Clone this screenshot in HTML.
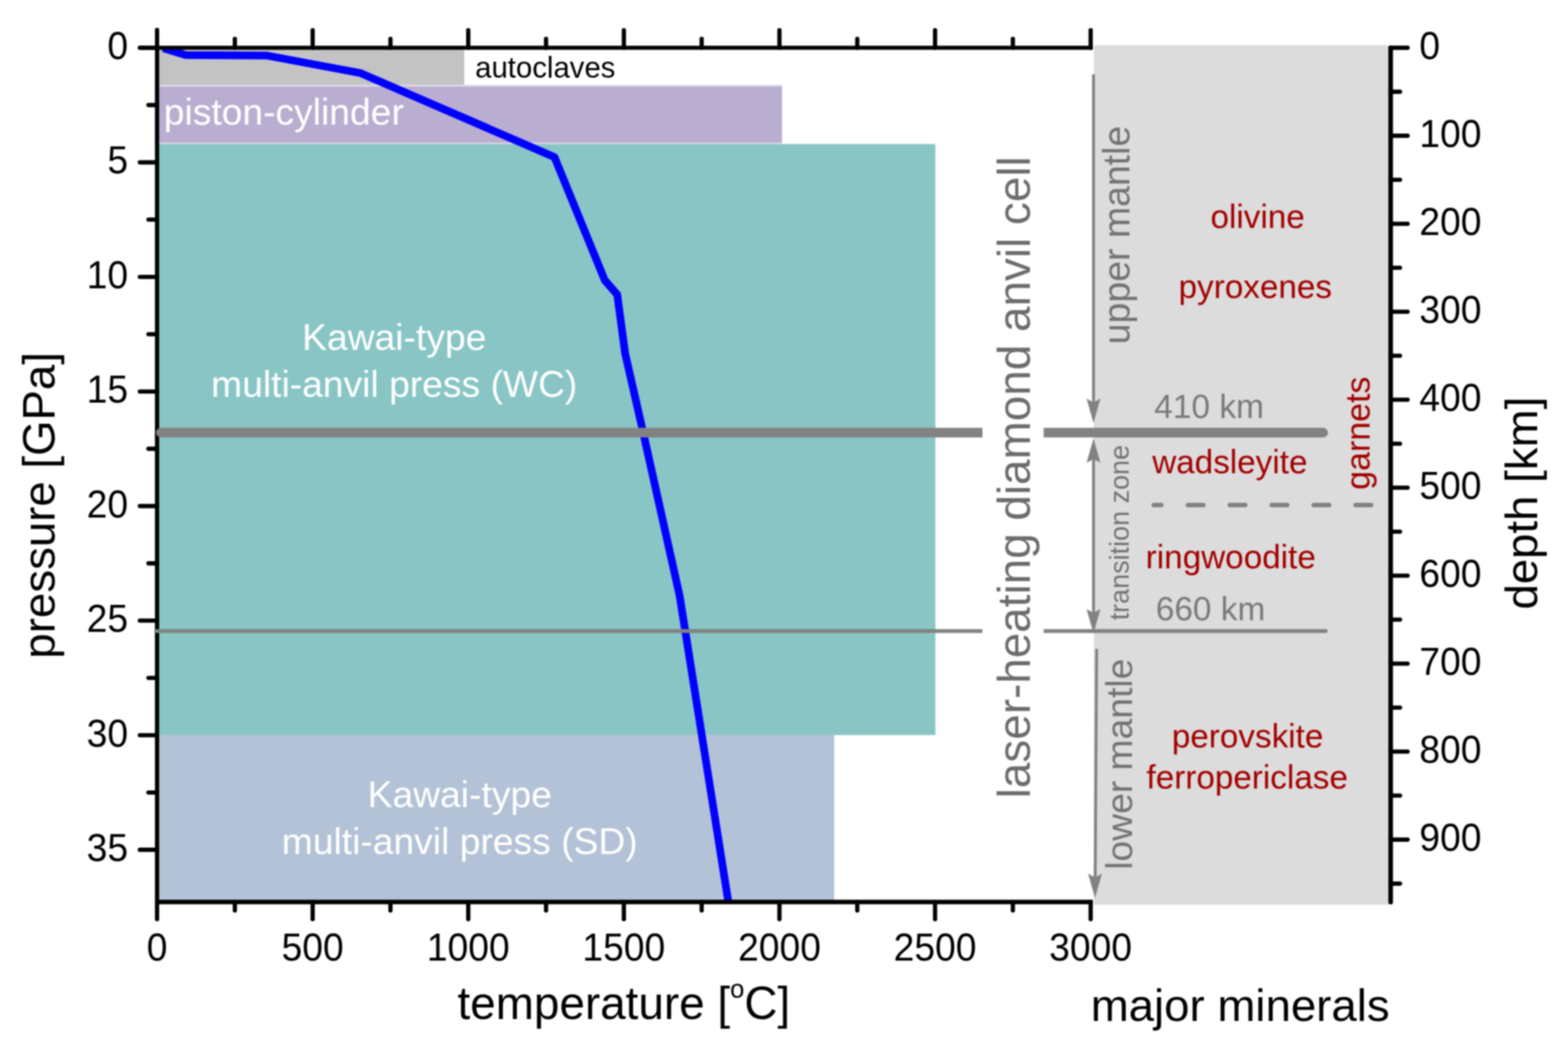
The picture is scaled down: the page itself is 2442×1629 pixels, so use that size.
<!DOCTYPE html>
<html lang="en"><head><meta charset="utf-8"><title>Pressure-temperature diagram</title>
<style>
html,body{margin:0;padding:0;background:#fff;}
body{width:2442px;height:1629px;overflow:hidden;}
svg{display:block;filter:blur(0.8px);}
text{font-family:"Liberation Sans",sans-serif;}
.tk{font-size:58px;fill:#000;}
.ttl{font-size:71px;fill:#000;}
.red{font-size:51.8px;fill:#a30000;}
.gry{fill:#737373;}
.wht{fill:#fff;font-size:58px;}
</style></head><body>
<svg width="2442" height="1629" viewBox="0 0 2442 1629">
<rect x="0" y="0" width="2442" height="1629" fill="#fff"/>

<defs><clipPath id="plot"><rect x="244.6" y="74.4" width="1500" height="1330.3"/></clipPath></defs>
<g>
<rect x="244.6" y="74.4" width="478.4" height="57.900000000000006" fill="#c3c3c3"/>
<rect x="244.6" y="132.3" width="973.4" height="92" fill="#dcd6e8"/>
<rect x="244.6" y="135" width="973.4" height="87" fill="#b9aed0"/>
<rect x="244.6" y="224.3" width="1212.2" height="920.5" fill="#89c5c5"/>
<rect x="244.6" y="1144.8" width="1054.6000000000001" height="259.9000000000001" fill="#b3c2d6"/>
<rect x="1703.5" y="70.5" width="459" height="1338.5" fill="#dcdcdc"/>
</g>
<polyline clip-path="url(#plot)" fill="none" stroke="#0000ff" stroke-width="12" stroke-linejoin="round" points="254,75 289.4,85.8 416.2,86.6 561.8,113.9 863.6,244.8 941.8,436.2 961.3,458.7 973.6,550.5 999.9,665.6 1058.5,928 1134.4,1405"/>
<g stroke="#000" stroke-width="6.6" fill="none" stroke-linecap="round">
<path d="M244.6 46.5V1431.5" />
<path d="M217.8 74.4H1701.8999999999999" stroke-linecap="butt" stroke-width="6.2"/>
<path d="M244.6 1404.7H1701.8999999999999" stroke-linecap="butt" stroke-width="7"/>
<path d="M2165.8 74.4V1405" stroke-width="7.2"/>
<path d="M365.77 74.4V60.5"/>
<path d="M365.77 1404.7V1418"/>
<path d="M486.93 74.4V47"/>
<path d="M486.93 1404.7V1431.5"/>
<path d="M608.10 74.4V60.5"/>
<path d="M608.10 1404.7V1418"/>
<path d="M729.27 74.4V47"/>
<path d="M729.27 1404.7V1431.5"/>
<path d="M850.43 74.4V60.5"/>
<path d="M850.43 1404.7V1418"/>
<path d="M971.60 74.4V47"/>
<path d="M971.60 1404.7V1431.5"/>
<path d="M1092.77 74.4V60.5"/>
<path d="M1092.77 1404.7V1418"/>
<path d="M1213.93 74.4V47"/>
<path d="M1213.93 1404.7V1431.5"/>
<path d="M1335.10 74.4V60.5"/>
<path d="M1335.10 1404.7V1418"/>
<path d="M1456.27 74.4V47"/>
<path d="M1456.27 1404.7V1431.5"/>
<path d="M1577.43 74.4V60.5"/>
<path d="M1577.43 1404.7V1418"/>
<path d="M1698.60 74.4V47"/>
<path d="M1698.60 1404.7V1431.5"/>
<path d="M244.6 74.40H217.8"/>
<path d="M244.6 163.62H231.2"/>
<path d="M244.6 252.83H217.8"/>
<path d="M244.6 342.04H231.2"/>
<path d="M244.6 431.26H217.8"/>
<path d="M244.6 520.48H231.2"/>
<path d="M244.6 609.69H217.8"/>
<path d="M244.6 698.90H231.2"/>
<path d="M244.6 788.12H217.8"/>
<path d="M244.6 877.33H231.2"/>
<path d="M244.6 966.55H217.8"/>
<path d="M244.6 1055.77H231.2"/>
<path d="M244.6 1144.98H217.8"/>
<path d="M244.6 1234.20H231.2"/>
<path d="M244.6 1323.41H217.8"/>
<path d="M2165.8 74.40H2192.2"/>
<path d="M2165.8 142.91H2180.4"/>
<path d="M2165.8 211.42H2192.2"/>
<path d="M2165.8 279.93H2180.4"/>
<path d="M2165.8 348.44H2192.2"/>
<path d="M2165.8 416.95H2180.4"/>
<path d="M2165.8 485.46H2192.2"/>
<path d="M2165.8 553.97H2180.4"/>
<path d="M2165.8 622.48H2192.2"/>
<path d="M2165.8 690.99H2180.4"/>
<path d="M2165.8 759.50H2192.2"/>
<path d="M2165.8 828.01H2180.4"/>
<path d="M2165.8 896.52H2192.2"/>
<path d="M2165.8 965.03H2180.4"/>
<path d="M2165.8 1033.54H2192.2"/>
<path d="M2165.8 1102.05H2180.4"/>
<path d="M2165.8 1170.56H2192.2"/>
<path d="M2165.8 1239.07H2180.4"/>
<path d="M2165.8 1307.58H2192.2"/>
<path d="M2165.8 1376.09H2180.4"/>
</g>
<g stroke="#828282" fill="none" stroke-linecap="round">
<path d="M250.6 673.8H2060.6" stroke-width="15"/>
<path d="M243 982.7H2064.7" stroke-width="6"/>
<path d="M1796.9 786.5H2139" stroke-width="7" stroke-dasharray="24 41.35" stroke-dashoffset="12.25"/>
</g>
<rect x="1530" y="230" width="95.4" height="1020" fill="#fff"/>
<g stroke="#828282" fill="none">
<line x1="1703" y1="115.7" x2="1703" y2="640" stroke-width="4.5"/>
<line x1="1703" y1="700" x2="1703" y2="960" stroke-width="4.5"/>
<line x1="1707.9" y1="1010.5" x2="1705.6" y2="1380" stroke-width="4.5"/>
</g>
<path fill="#828282" d="M1703 658.8 L1692.2 620.8 L1703 626.8 L1713.8 620.8 Z"/>
<path fill="#828282" d="M1703 682.8 L1692.2 720.8 L1703 714.8 L1713.8 720.8 Z"/>
<path fill="#828282" d="M1703 986.5 L1692.2 948.5 L1703 954.5 L1713.8 948.5 Z"/>
<path fill="#828282" d="M1705.4 1398.4 L1694.6000000000001 1360.4 L1705.4 1366.4 L1716.2 1360.4 Z"/>
<g class="tk">
<text transform="translate(199.6 92.0) scale(1 1.04)" text-anchor="end">0</text>
<text transform="translate(199.6 270.4) scale(1 1.04)" text-anchor="end">5</text>
<text transform="translate(199.6 448.9) scale(1 1.04)" text-anchor="end">10</text>
<text transform="translate(199.6 627.3) scale(1 1.04)" text-anchor="end">15</text>
<text transform="translate(199.6 805.7) scale(1 1.04)" text-anchor="end">20</text>
<text transform="translate(199.6 984.1) scale(1 1.04)" text-anchor="end">25</text>
<text transform="translate(199.6 1162.6) scale(1 1.04)" text-anchor="end">30</text>
<text transform="translate(199.6 1341.0) scale(1 1.04)" text-anchor="end">35</text>
<text transform="translate(244.6 1496.0) scale(1 1.04)" text-anchor="middle">0</text>
<text transform="translate(486.9 1496.0) scale(1 1.04)" text-anchor="middle">500</text>
<text transform="translate(729.3 1496.0) scale(1 1.04)" text-anchor="middle">1000</text>
<text transform="translate(971.6 1496.0) scale(1 1.04)" text-anchor="middle">1500</text>
<text transform="translate(1213.9 1496.0) scale(1 1.04)" text-anchor="middle">2000</text>
<text transform="translate(1456.3 1496.0) scale(1 1.04)" text-anchor="middle">2500</text>
<text transform="translate(1698.6 1496.0) scale(1 1.04)" text-anchor="middle">3000</text>
<text transform="translate(2210.6 92.0) scale(1 1.04)" text-anchor="start">0</text>
<text transform="translate(2210.6 229.0) scale(1 1.04)" text-anchor="start">100</text>
<text transform="translate(2210.6 366.0) scale(1 1.04)" text-anchor="start">200</text>
<text transform="translate(2210.6 503.1) scale(1 1.04)" text-anchor="start">300</text>
<text transform="translate(2210.6 640.1) scale(1 1.04)" text-anchor="start">400</text>
<text transform="translate(2210.6 777.1) scale(1 1.04)" text-anchor="start">500</text>
<text transform="translate(2210.6 914.1) scale(1 1.04)" text-anchor="start">600</text>
<text transform="translate(2210.6 1051.1) scale(1 1.04)" text-anchor="start">700</text>
<text transform="translate(2210.6 1188.2) scale(1 1.04)" text-anchor="start">800</text>
<text transform="translate(2210.6 1325.2) scale(1 1.04)" text-anchor="start">900</text>
</g>
<g class="ttl">
<text transform="translate(85.2 787) rotate(-90)" text-anchor="middle">pressure [GPa]</text>
<text x="971.6" y="1587" text-anchor="middle" font-size="71.4">temperature [<tspan font-size="40" dy="-33">o</tspan><tspan dy="33">C]</tspan></text>
<text x="1931.5" y="1590" text-anchor="middle">major minerals</text>
<text transform="translate(2393.6 783.6) rotate(-90)" text-anchor="middle">depth [km]</text>
</g>
<text x="740" y="121" font-size="45.7" fill="#000">autoclaves</text>
<g class="wht">
<text x="255" y="193.5">piston-cylinder</text>
<text x="614" y="545" text-anchor="middle">Kawai-type</text>
<text x="614" y="618" text-anchor="middle">multi-anvil press (WC)</text>
<text x="716" y="1256.8" text-anchor="middle">Kawai-type</text>
<text x="716" y="1329.8" text-anchor="middle">multi-anvil press (SD)</text>
</g>
<g class="gry">
<text transform="translate(1603.8 743.3) rotate(-90)" text-anchor="middle" font-size="71.4" fill="#6c6c6c">laser-heating diamond anvil cell</text>
<text transform="translate(1758.8 366) rotate(-90)" text-anchor="middle" font-size="58.3">upper mantle</text>
<text transform="translate(1757.5 829.5) rotate(-90)" text-anchor="middle" font-size="42">transition zone</text>
<text transform="translate(1763.2 1190.2) rotate(-90)" text-anchor="middle" font-size="58">lower mantle</text>
<text x="1797.4" y="650.5" font-size="52.2" fill="#7a7a7a">410 km</text>
<text x="1800" y="966" font-size="52" fill="#7a7a7a">660 km</text>
</g>
<g class="red">
<text x="1958.6" y="354.6" text-anchor="middle">olivine</text>
<text x="1955" y="464.4" text-anchor="middle">pyroxenes</text>
<text x="1915.3" y="737" text-anchor="middle">wadsleyite</text>
<text x="1916.8" y="885" text-anchor="middle">ringwoodite</text>
<text x="1943" y="1163.8" text-anchor="middle">perovskite</text>
<text x="1942.4" y="1228.4" text-anchor="middle">ferropericlase</text>
<text transform="translate(2133.2 674.6) rotate(-90)" text-anchor="middle" font-size="52.8">garnets</text>
</g>
</svg></body></html>
